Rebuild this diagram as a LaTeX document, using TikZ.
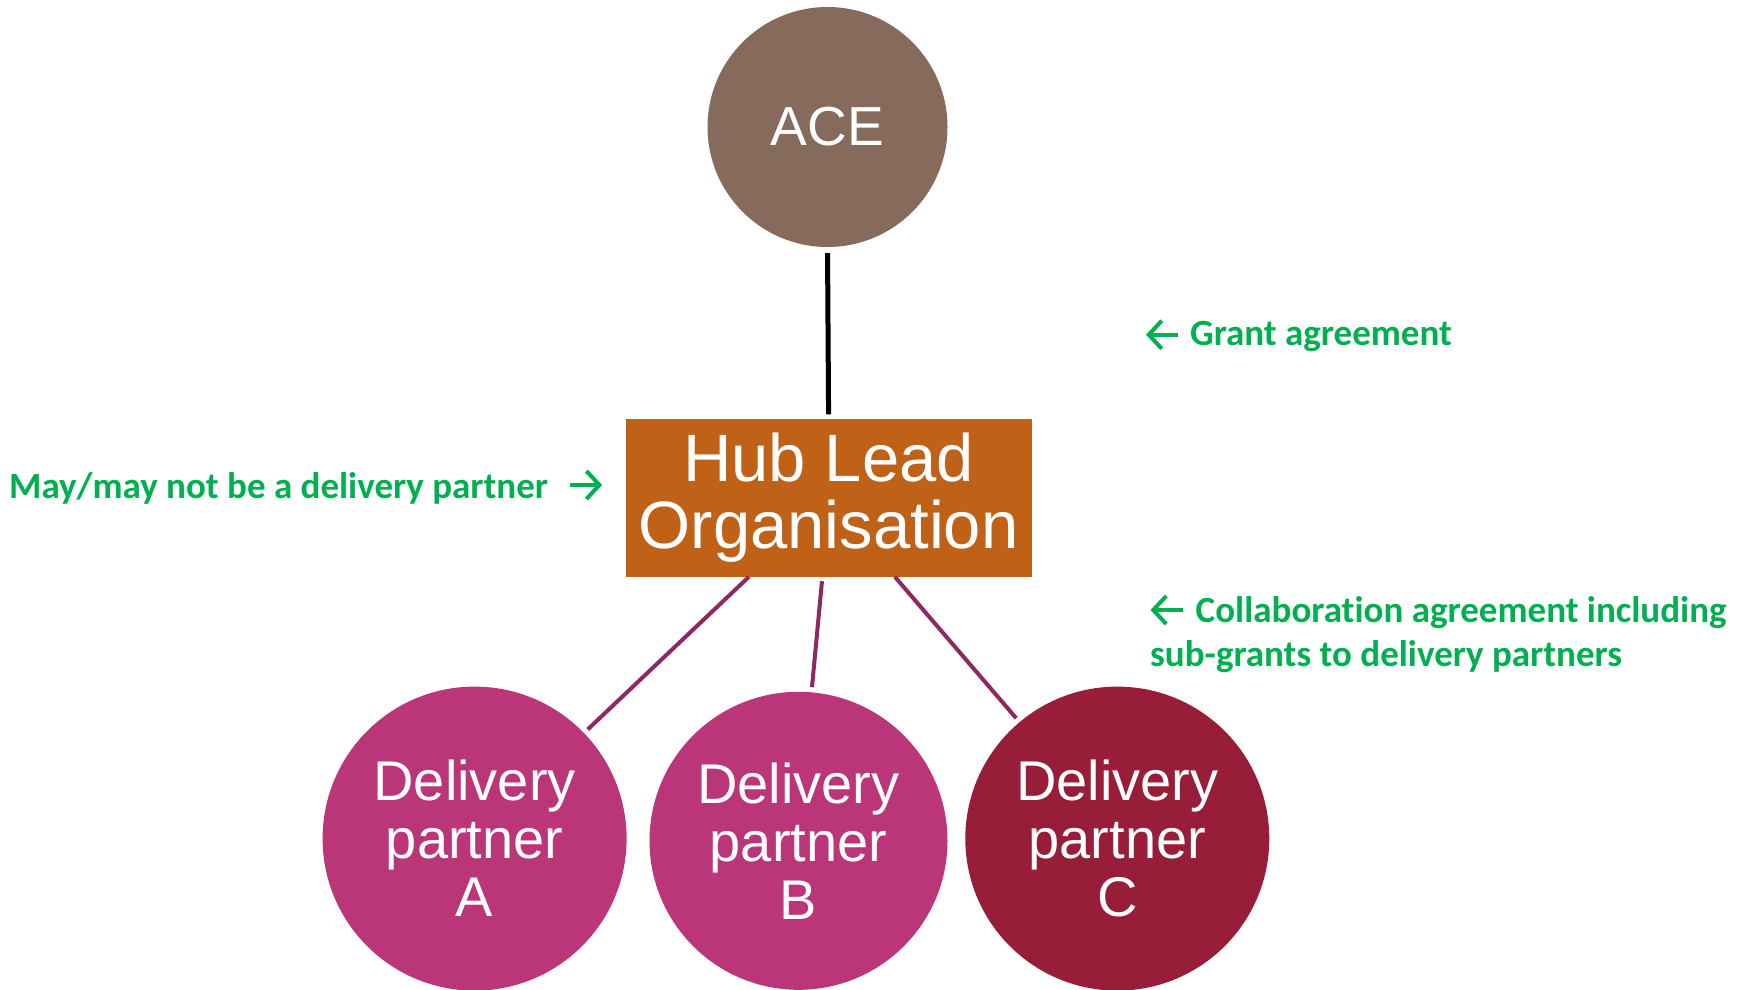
\documentclass[tikz,border=0pt]{standalone}
\usepackage{fontspec}
\setmainfont{Liberation Sans}
\newfontfamily\notefont[Ligatures=NoCommon]{Carlito}
\usetikzlibrary{calc,arrows.meta}

\definecolor{acebrown}{HTML}{866A5C}
\definecolor{huborange}{HTML}{C06118}
\definecolor{partnerpink}{HTML}{BB3579}
\definecolor{partnerred}{HTML}{981D38}
\definecolor{linkpurple}{HTML}{8E2762}
\definecolor{notegreen}{HTML}{00B050}

\tikzset{
  disc/.style={circle, inner sep=0pt, text=white, align=center,
    font=\fontsize{56}{58}\selectfont},
  hubbox/.style={rectangle, fill=huborange, text=white, inner sep=0pt,
    minimum width=406pt, minimum height=158pt, align=center,
    font=\fontsize{67}{67}\selectfont},
  note/.style={text=notegreen, inner sep=0pt, anchor=base west,
    font=\notefont\bfseries\fontsize{37}{44}\selectfont},
  notearrow/.style={draw=notegreen, line width=4pt,
    -{Straight Barb[length=13pt,width=28pt,line width=4pt]}},
  toplink/.style={draw=black, line width=5pt},
  sublink/.style={draw=linkpurple, line width=4pt},
}

\begin{document}
\begin{tikzpicture}[x=1pt,y=-1pt]
  \useasboundingbox (0,0) rectangle (1745,990);
  \clip (0,0) rectangle (1745,990);

  % organisations
  \node[disc, fill=acebrown, minimum size=240pt,
        font=\fontsize{55}{55}\selectfont] (ace) at (827.5,127) {ACE};
  \node[hubbox] (hub) at (828.6,497.5) {Hub Lead\\Organisation};
  \node[disc, fill=partnerpink, minimum size=304pt] (pa) at (474.6,838.6)
        {Delivery\\partner\\A};
  \node[disc, fill=partnerpink, minimum size=298pt] (pb) at (798.5,840.8)
        {Delivery\\partner\\B};
  \node[disc, fill=partnerred, minimum size=304pt] (pc) at (1117.3,838.6)
        {Delivery\\partner\\C};

  % agreements between them
  \draw[toplink, shorten <=6pt, shorten >=4pt] (ace.south) -- (hub.north);
  \draw[sublink, shorten >=5pt] ($(hub.south)+(-79.6,0)$) -- (pa.44);
  \draw[sublink, shorten <=4.5pt, shorten >=5pt] ($(hub.south)+(-6.2,0)$) -- (pb.85);
  \draw[sublink, shorten >=5pt] ($(hub.south)+(66.2,0)$) -- (pc.130.5);

  % annotations
  \node[note] (may) at (9,498) {May/may not be a delivery partner};
  \draw[notearrow] ($(may.base east)+(22,-13)$) -- ++(32,0);

  \node[note] (grant) at (1190,345.7) {Grant agreement};
  \draw[notearrow] ($(grant.base west)+(-12,-11)$) -- ++(-32,0);

  \node[note] (collab) at (1195.5,622.7) {Collaboration agreement including};
  \node[note] (subgrant) at (1150,666.7) {sub-grants to delivery partners};
  \draw[notearrow] ($(collab.base west)+(-13,-12.7)$) -- ++(-32,0);
\end{tikzpicture}
\end{document}
